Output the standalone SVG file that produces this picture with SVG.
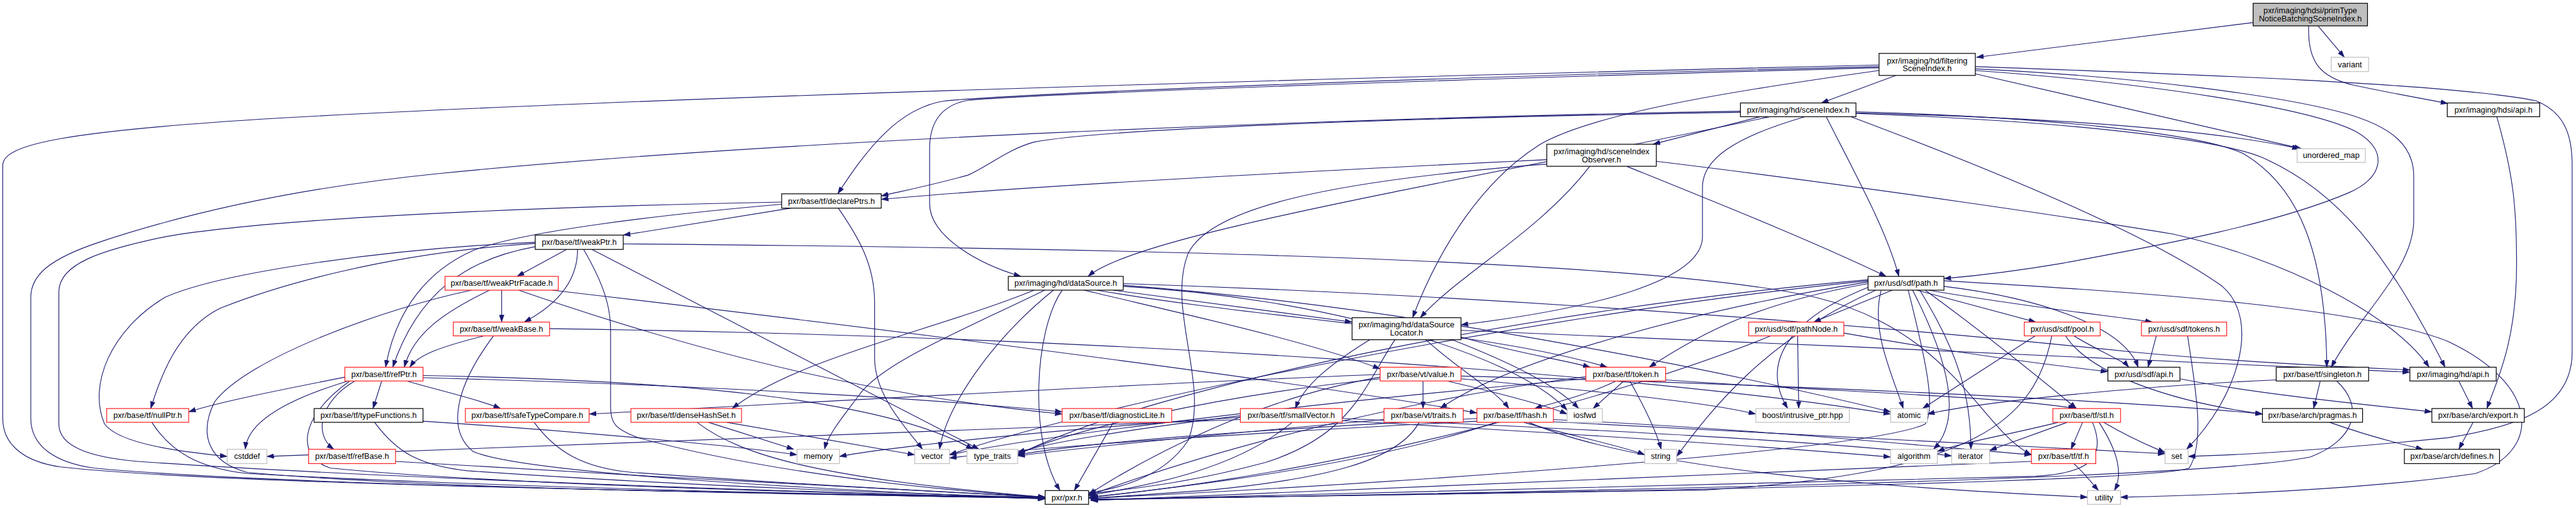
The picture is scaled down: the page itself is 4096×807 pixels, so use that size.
<svg xmlns="http://www.w3.org/2000/svg" width="4096" height="807" viewBox="0 0 4096 807">
<defs>
<style>
.e path{fill:none;stroke:#191970;stroke-width:1.3;marker-end:url(#ah)}
.n rect{fill:#fff;stroke-width:1.4}
.b rect{stroke:#000}
.r rect{stroke:#ff2020}
.g rect{stroke:#bfbfbf}
.root rect{fill:#bfbfbf;stroke:#000}
text{font-family:"Liberation Sans",Arial,Helvetica,sans-serif;font-size:14.6px;fill:#000;text-anchor:middle}
</style>
<marker id="ah" markerUnits="userSpaceOnUse" viewBox="0 0 13 9" refX="13" refY="4.5" markerWidth="13" markerHeight="9" orient="auto">
<path d="M0,0 L13,4.5 L0,9 z" fill="#191970" stroke="#191970" stroke-width="0.5"/>
</marker>
</defs>
<rect x="0" y="0" width="4096" height="807" fill="#fff"/>
<g transform="scale(0.87465)">
<g id="edges" class="e">
<path d="M4096,41 L3593,104"/>
<path d="M4214,47 L4262,104"/>
<path d="M4197,47 C4195,110 4215,140 4280,155 C4350,170 4400,178 4450,188"/>
<path d="M4539,212 C4570,320 4575,380 4575,480 C4575,620 4540,690 4521,742"/>
<path d="M3416,118 C2500,140 1200,175 500,215 C120,238 5,262 5,300 L5,760 C5,805 40,838 110,848 C400,880 1300,895 1900,903"/>
<path d="M3416,121 C2600,140 1900,168 1720,183 C1630,195 1570,280 1523,352"/>
<path d="M3416,123 C2600,145 1900,170 1760,182 C1705,192 1690,230 1690,270 L1690,370 C1690,430 1780,480 1856,502"/>
<path d="M3416,128 C3150,165 2900,205 2800,262 C2700,325 2620,440 2568,577"/>
<path d="M3447,137 L3311,187"/>
<path d="M3591,121 C3900,132 4450,150 4610,183 C4665,205 4676,250 4676,300 L4676,640 C4676,740 4580,775 4450,795 C4250,815 4080,826 3978,829"/>
<path d="M3591,125 C3900,140 4150,175 4260,205 C4350,230 4388,265 4388,320 L4388,400 C4388,490 4290,570 4238,667"/>
<path d="M3591,128 C3900,150 4200,195 4285,240 C4345,275 4330,325 4270,350 C4130,410 3900,450 3750,478 C3650,495 3580,502 3534,506"/>
<path d="M3591,134 L4184,270"/>
<path d="M3164,202 C2400,215 1400,255 800,315 C500,345 300,400 180,440 C90,470 56,500 56,540 L56,760 C56,810 100,840 170,850 C500,882 1400,896 1900,905"/>
<path d="M3164,204 C2500,215 2000,235 1880,258 C1830,272 1800,300 1760,318 C1680,340 1625,350 1602,356"/>
<path d="M3217,212 C3000,260 2500,350 2250,410 C2100,445 2010,475 1978,502"/>
<path d="M3281,212 C3150,250 3095,290 3095,340 L3095,430 C3095,510 2900,560 2656,590"/>
<path d="M3200,212 L3005,262"/>
<path d="M3320,212 C3380,330 3430,420 3452,502"/>
<path d="M3374,206 C3750,220 4020,250 4110,285 C4250,345 4340,460 4445,667"/>
<path d="M3374,203 C3700,212 4000,240 4080,280 C4180,340 4228,460 4230,667"/>
<path d="M3374,205 C3700,213 4000,232 4180,270"/>
<path d="M3365,212 C3600,300 3900,420 4040,520 C4110,580 4070,720 3975,816"/>
<path d="M2812,290 C2500,305 1900,335 1602,362"/>
<path d="M2890,302 C2800,420 2650,500 2582,577"/>
<path d="M2957,302 C3150,380 3300,440 3429,502"/>
<path d="M3011,293 C3400,340 3800,400 3950,425 C4150,470 4350,570 4416,667"/>
<path d="M2812,298 C2400,330 2200,380 2160,460 C2120,560 2200,700 2160,800 C2120,860 2050,885 1979,895"/>
<path d="M1421,367 C1000,375 500,395 300,430 C180,455 107,480 107,530 L107,770 C107,810 160,830 250,838 C700,870 1500,894 1900,906"/>
<path d="M1438,378 L1133,427"/>
<path d="M1421,371 C1200,390 950,420 860,455 C780,490 720,560 701,667"/>
<path d="M1524,378 C1560,430 1590,480 1590,550 L1590,650 C1590,720 1650,780 1677,816"/>
<path d="M1030,453 L940,502"/>
<path d="M1050,453 C1050,520 1000,560 953,585"/>
<path d="M973,448 C850,470 760,530 714,667"/>
<path d="M973,442 C700,460 500,520 400,560 C320,600 290,690 274,742"/>
<path d="M973,440 C700,452 400,495 300,540 C200,600 160,700 190,770 C220,810 350,822 413,829"/>
<path d="M1133,443 C2000,450 3000,470 3300,540 C3550,600 3600,780 3693,826"/>
<path d="M1076,453 L1780,816"/>
<path d="M1061,453 C1100,520 1110,560 1110,600 L1110,740 C1110,770 1120,780 1160,795 C1400,860 1700,890 1900,903"/>
<path d="M857,527 C700,560 450,650 390,730 C360,790 380,840 450,858 C800,890 1500,898 1900,905"/>
<path d="M890,527 C800,570 750,610 735,667"/>
<path d="M912,527 L912,585"/>
<path d="M943,527 C1300,650 1600,720 1931,752"/>
<path d="M1004,527 C1800,620 2400,700 2685,750"/>
<path d="M897,610 C830,700 810,780 860,820 C950,860 1500,890 1900,906"/>
<path d="M880,610 C800,630 760,645 745,667"/>
<path d="M999,597 C2000,610 3000,680 3437,752"/>
<path d="M627,685 C500,710 400,730 343,748"/>
<path d="M633,692 C540,720 450,760 446,816"/>
<path d="M645,692 C580,730 570,790 607,816"/>
<path d="M694,692 L678,742"/>
<path d="M636,692 C540,760 540,830 600,850 C900,880 1500,895 1900,905"/>
<path d="M740,692 C800,710 870,725 910,742"/>
<path d="M769,682 C1200,690 1600,720 1769,816"/>
<path d="M769,686 C1300,700 1700,725 1931,748"/>
<path d="M769,765 C1000,780 1300,805 1449,826"/>
<path d="M681,767 C720,820 760,845 850,855 C1200,880 1600,895 1900,904"/>
<path d="M719,838 C1100,860 1600,890 1900,903"/>
<path d="M276,767 C310,820 360,850 450,860 C900,885 1500,898 1900,905"/>
<path d="M971,767 C1010,820 1060,850 1150,858 C1450,880 1700,893 1900,903"/>
<path d="M1267,767 C1350,830 1500,870 1900,903"/>
<path d="M1288,767 L1443,816"/>
<path d="M1321,767 C1450,790 1580,812 1663,826"/>
<path d="M2024,767 L1953,891"/>
<path d="M1899,527 C1750,600 1600,660 1560,720 C1530,760 1505,790 1499,816"/>
<path d="M1915,527 C1800,620 1720,740 1708,816"/>
<path d="M1971,527 C2150,570 2380,620 2509,670"/>
<path d="M1994,527 C2300,580 2700,600 2922,667"/>
<path d="M2024,527 C2200,550 2350,570 2458,585"/>
<path d="M2042,515 C2800,540 3500,600 3883,640 C4100,660 4300,668 4381,672"/>
<path d="M2042,518 C2600,560 3200,690 3437,748"/>
<path d="M2042,520 C2400,540 2750,640 2849,745"/>
<path d="M1931,527 C1880,600 1870,800 1927,891"/>
<path d="M1880,527 C1700,600 1450,650 1331,742"/>
<path d="M2490,617 C2420,660 2370,700 2355,742"/>
<path d="M2536,617 C2480,700 2460,790 2300,840 C2150,880 2050,888 1979,897"/>
<path d="M2592,617 C2650,670 2720,710 2743,742"/>
<path d="M2640,617 C2750,660 2830,700 2870,742"/>
<path d="M2656,612 C2750,640 2850,655 2891,667"/>
<path d="M2656,600 C3200,620 4000,660 4381,676"/>
<path d="M2587,692 L2587,742"/>
<path d="M2631,692 C2750,720 2820,740 2849,752"/>
<path d="M2509,680 C2000,700 1400,735 1071,752"/>
<path d="M2509,685 C2300,720 2100,820 1979,898"/>
<path d="M2509,688 C2200,720 1950,780 1850,825"/>
<path d="M2656,683 C3300,700 3900,730 4113,752"/>
<path d="M2656,688 C2900,710 3100,730 3192,752"/>
<path d="M2938,692 C2880,720 2810,735 2790,742"/>
<path d="M2952,692 L2896,742"/>
<path d="M2963,692 C2990,740 3010,780 3020,816"/>
<path d="M2883,684 C2600,720 2250,800 1979,900"/>
<path d="M2883,688 C2400,730 1900,790 1726,826"/>
<path d="M3028,690 C3300,710 3650,720 3773,742"/>
<path d="M2720,767 C2500,840 2200,880 1979,903"/>
<path d="M2770,767 C2850,790 2950,810 2990,826"/>
<path d="M2779,767 C2950,840 3300,880 3795,903"/>
<path d="M2685,760 C2300,780 2000,800 1850,826"/>
<path d="M2685,765 C2200,790 1850,815 1726,832"/>
<path d="M2824,762 C3200,780 3500,810 3693,826"/>
<path d="M2824,766 C3300,790 3700,815 3936,824"/>
<path d="M2516,762 C2200,790 1950,815 1850,828"/>
<path d="M2580,767 C2540,840 2400,870 2200,890 C2100,898 2020,902 1979,905"/>
<path d="M2349,767 C2250,850 2100,880 1979,900"/>
<path d="M2255,758 C1900,780 1600,815 1526,829"/>
<path d="M2255,755 C2050,780 1900,805 1850,822"/>
<path d="M2440,760 C2900,780 3300,800 3548,828"/>
<path d="M2440,764 C2900,790 3200,810 3437,830"/>
<path d="M2255,762 C1500,790 900,810 485,829"/>
<path d="M3440,527 L3297,585"/>
<path d="M3485,527 L3701,585"/>
<path d="M3506,527 C3700,560 3850,575 3913,585"/>
<path d="M3534,520 C3700,540 3860,590 3887,667"/>
<path d="M3396,522 C3250,580 3200,660 3250,742"/>
<path d="M3420,527 C3400,600 3440,680 3460,742"/>
<path d="M3469,527 C3500,650 3520,740 3500,770 C3400,820 2500,880 1983,905"/>
<path d="M3477,527 C3540,650 3570,760 3515,816"/>
<path d="M3490,527 C3560,640 3583,720 3583,816"/>
<path d="M3500,527 C3600,600 3700,680 3775,742"/>
<path d="M3396,512 C3100,560 2750,650 2618,742"/>
<path d="M3396,515 C3200,550 3100,600 2998,667"/>
<path d="M3396,508 C2800,560 2100,700 1850,826"/>
<path d="M3396,510 C2800,570 2000,730 1726,826"/>
<path d="M3410,527 C3200,620 3100,760 3048,829"/>
<path d="M3534,510 C3900,530 4300,560 4450,620 C4620,700 4620,820 4500,860 C4300,890 4000,900 3855,903"/>
<path d="M3268,610 L3270,742"/>
<path d="M3219,610 C3000,700 2500,850 1983,903"/>
<path d="M3352,605 C3550,640 3700,660 3832,675"/>
<path d="M3700,610 L3495,742"/>
<path d="M3730,610 C3700,760 3600,860 3100,890 C2500,900 2100,905 1983,907"/>
<path d="M3770,610 C3820,640 3860,655 3870,667"/>
<path d="M3755,610 C3800,680 3950,730 4113,752"/>
<path d="M3920,610 L3905,667"/>
<path d="M3977,610 C3990,700 4010,800 3980,850 C3900,880 2500,900 1983,907"/>
<path d="M3963,688 C4100,715 4300,735 4421,748"/>
<path d="M4218,692 L4206,742"/>
<path d="M4138,690 C3900,700 3600,730 3504,752"/>
<path d="M4248,692 C4300,740 4280,800 4200,830 C4000,870 3000,890 1983,908"/>
<path d="M4470,692 L4495,742"/>
<path d="M4235,767 C4300,790 4370,808 4405,816"/>
<path d="M4496,767 L4470,816"/>
<path d="M3742,767 C3650,790 3560,805 3522,820"/>
<path d="M3758,767 L3617,818"/>
<path d="M3786,767 L3765,816"/>
<path d="M3804,767 C3830,830 3800,860 3700,865 C3000,885 2300,900 1983,908"/>
<path d="M3816,767 C3850,820 3860,860 3844,891"/>
<path d="M3824,767 C3880,800 3920,815 3936,822"/>
<path d="M3770,842 C3790,860 3805,880 3815,891"/>
<path d="M3693,838 C3000,870 2400,895 1983,909"/>
</g>
<g id="n-root" class="n root"><rect x="4096" y="6" width="208" height="41"/><text x="4200" y="24">pxr/imaging/hdsi/primType</text><text x="4200" y="38.5">NoticeBatchingSceneIndex.h</text></g>
<g id="n-filtering" class="n b"><rect x="3416" y="97" width="175" height="40"/><text x="3503.5" y="115">pxr/imaging/hd/filtering</text><text x="3503.5" y="129.5">SceneIndex.h</text></g>
<g id="n-variant" class="n g"><rect x="4238" y="104" width="68" height="26"/><text x="4272" y="122">variant</text></g>
<g id="n-hdsiapi" class="n b"><rect x="4449" y="187" width="168" height="25"/><text x="4533" y="204.5">pxr/imaging/hdsi/api.h</text></g>
<g id="n-sceneindex" class="n b"><rect x="3164" y="187" width="210" height="25"/><text x="3269" y="204.5">pxr/imaging/hd/sceneIndex.h</text></g>
<g id="n-unorderedmap" class="n g"><rect x="4176" y="270" width="124" height="25"/><text x="4238" y="287.5">unordered_map</text></g>
<g id="n-observer" class="n b"><rect x="2812" y="262" width="199" height="40"/><text x="2911.5" y="280">pxr/imaging/hd/sceneIndex</text><text x="2911.5" y="294.5">Observer.h</text></g>
<g id="n-declareptrs" class="n b"><rect x="1421" y="352" width="181" height="26"/><text x="1511.5" y="370">pxr/base/tf/declarePtrs.h</text></g>
<g id="n-weakptr" class="n b"><rect x="973" y="427" width="160" height="26"/><text x="1053" y="445">pxr/base/tf/weakPtr.h</text></g>
<g id="n-weakptrfacade" class="n r"><rect x="809" y="502" width="206" height="25"/><text x="912" y="519.5">pxr/base/tf/weakPtrFacade.h</text></g>
<g id="n-datasource" class="n b"><rect x="1833" y="502" width="209" height="25"/><text x="1937.5" y="519.5">pxr/imaging/hd/dataSource.h</text></g>
<g id="n-path" class="n b"><rect x="3396" y="502" width="138" height="25"/><text x="3465" y="519.5">pxr/usd/sdf/path.h</text></g>
<g id="n-dslocator" class="n b"><rect x="2458" y="577" width="198" height="40"/><text x="2557" y="595">pxr/imaging/hd/dataSource</text><text x="2557" y="609.5">Locator.h</text></g>
<g id="n-weakbase" class="n r"><rect x="824" y="585" width="175" height="25"/><text x="911.5" y="602.5">pxr/base/tf/weakBase.h</text></g>
<g id="n-pathnode" class="n r"><rect x="3179" y="585" width="173" height="25"/><text x="3265.5" y="602.5">pxr/usd/sdf/pathNode.h</text></g>
<g id="n-pool" class="n r"><rect x="3680" y="585" width="138" height="25"/><text x="3749" y="602.5">pxr/usd/sdf/pool.h</text></g>
<g id="n-tokens" class="n r"><rect x="3893" y="585" width="155" height="25"/><text x="3970.5" y="602.5">pxr/usd/sdf/tokens.h</text></g>
<g id="n-refptr" class="n r"><rect x="627" y="667" width="142" height="25"/><text x="698" y="684.5">pxr/base/tf/refPtr.h</text></g>
<g id="n-vtvalue" class="n r"><rect x="2509" y="667" width="147" height="25"/><text x="2582.5" y="684.5">pxr/base/vt/value.h</text></g>
<g id="n-token" class="n r"><rect x="2883" y="667" width="145" height="25"/><text x="2955.5" y="684.5">pxr/base/tf/token.h</text></g>
<g id="n-sdfapi" class="n b"><rect x="3832" y="667" width="131" height="25"/><text x="3897.5" y="684.5">pxr/usd/sdf/api.h</text></g>
<g id="n-singleton" class="n b"><rect x="4138" y="667" width="168" height="25"/><text x="4222" y="684.5">pxr/base/tf/singleton.h</text></g>
<g id="n-hdapi" class="n b"><rect x="4381" y="667" width="157" height="25"/><text x="4459.5" y="684.5">pxr/imaging/hd/api.h</text></g>
<g id="n-nullptr" class="n r"><rect x="194" y="742" width="149" height="25"/><text x="268.5" y="759.5">pxr/base/tf/nullPtr.h</text></g>
<g id="n-typefunctions" class="n b"><rect x="571" y="742" width="198" height="25"/><text x="670" y="759.5">pxr/base/tf/typeFunctions.h</text></g>
<g id="n-safetypecompare" class="n r"><rect x="846" y="742" width="225" height="25"/><text x="958.5" y="759.5">pxr/base/tf/safeTypeCompare.h</text></g>
<g id="n-densehashset" class="n r"><rect x="1147" y="742" width="201" height="25"/><text x="1247.5" y="759.5">pxr/base/tf/denseHashSet.h</text></g>
<g id="n-diagnosticlite" class="n r"><rect x="1931" y="742" width="199" height="25"/><text x="2030.5" y="759.5">pxr/base/tf/diagnosticLite.h</text></g>
<g id="n-smallvector" class="n r"><rect x="2255" y="742" width="185" height="25"/><text x="2347.5" y="759.5">pxr/base/tf/smallVector.h</text></g>
<g id="n-vttraits" class="n r"><rect x="2516" y="742" width="144" height="25"/><text x="2588" y="759.5">pxr/base/vt/traits.h</text></g>
<g id="n-hash" class="n r"><rect x="2685" y="742" width="139" height="25"/><text x="2754.5" y="759.5">pxr/base/tf/hash.h</text></g>
<g id="n-iosfwd" class="n g"><rect x="2849" y="742" width="64" height="25"/><text x="2881" y="759.5">iosfwd</text></g>
<g id="n-boost" class="n g"><rect x="3192" y="742" width="170" height="25"/><text x="3277" y="759.5">boost/intrusive_ptr.hpp</text></g>
<g id="n-atomic" class="n g"><rect x="3437" y="742" width="67" height="25"/><text x="3470.5" y="759.5">atomic</text></g>
<g id="n-stl" class="n r"><rect x="3732" y="742" width="123" height="25"/><text x="3793.5" y="759.5">pxr/base/tf/stl.h</text></g>
<g id="n-pragmas" class="n b"><rect x="4113" y="742" width="182" height="25"/><text x="4204" y="759.5">pxr/base/arch/pragmas.h</text></g>
<g id="n-export" class="n b"><rect x="4421" y="742" width="168" height="25"/><text x="4505" y="759.5">pxr/base/arch/export.h</text></g>
<g id="n-cstddef" class="n g"><rect x="413" y="816" width="72" height="26"/><text x="449" y="834">cstddef</text></g>
<g id="n-refbase" class="n r"><rect x="561" y="816" width="158" height="26"/><text x="640" y="834">pxr/base/tf/refBase.h</text></g>
<g id="n-memory" class="n g"><rect x="1449" y="816" width="77" height="26"/><text x="1487.5" y="834">memory</text></g>
<g id="n-vector" class="n g"><rect x="1663" y="816" width="63" height="26"/><text x="1694.5" y="834">vector</text></g>
<g id="n-typetraits" class="n g"><rect x="1758" y="816" width="92" height="26"/><text x="1804" y="834">type_traits</text></g>
<g id="n-string" class="n g"><rect x="2990" y="816" width="58" height="26"/><text x="3019" y="834">string</text></g>
<g id="n-algorithm" class="n g"><rect x="3437" y="816" width="85" height="26"/><text x="3479.5" y="834">algorithm</text></g>
<g id="n-iterator" class="n g"><rect x="3548" y="816" width="69" height="26"/><text x="3582.5" y="834">iterator</text></g>
<g id="n-tf" class="n r"><rect x="3693" y="816" width="117" height="26"/><text x="3751.5" y="834">pxr/base/tf/tf.h</text></g>
<g id="n-set" class="n g"><rect x="3936" y="816" width="42" height="26"/><text x="3957" y="834">set</text></g>
<g id="n-defines" class="n b"><rect x="4371" y="816" width="173" height="26"/><text x="4457.5" y="834">pxr/base/arch/defines.h</text></g>
<g id="n-pxr" class="n b"><rect x="1900" y="891" width="79" height="25"/><text x="1939.5" y="908.5">pxr/pxr.h</text></g>
<g id="n-utility" class="n g"><rect x="3795" y="891" width="60" height="25"/><text x="3825" y="908.5">utility</text></g>
</g>
</svg>
